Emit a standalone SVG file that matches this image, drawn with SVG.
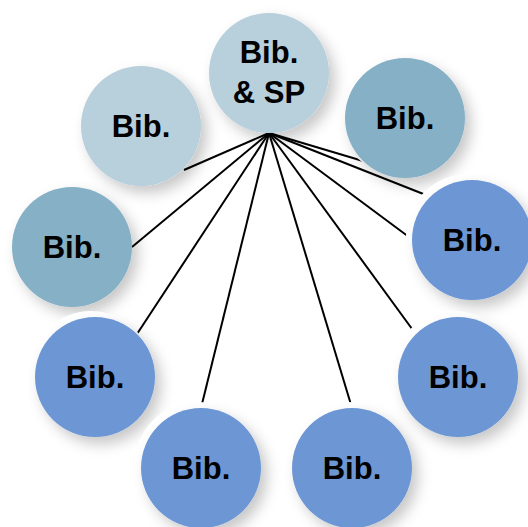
<svg xmlns="http://www.w3.org/2000/svg" width="528" height="527" viewBox="0 0 528 527">
<defs>
<filter id="sh" x="-40%" y="-40%" width="180%" height="180%">
<feDropShadow dx="6" dy="7" stdDeviation="7" flood-color="#000" flood-opacity="0.22"/>
</filter>
</defs>
<style>
.halo{fill:#fff}
.l{fill:#b8cfdc}
.t{fill:#86b0c5}
.b{fill:#6d96d4}
.lbl{font-family:"Liberation Sans",Arial,sans-serif;font-weight:bold;font-size:31px;fill:#000;text-anchor:middle}
.c line{stroke:#000;stroke-width:2}
</style>
<rect width="528" height="527" fill="#fff"/>
<g id="connectors" class="c">
<line x1="269" y1="133" x2="184" y2="170"/>
<line x1="269" y1="133" x2="132" y2="247"/>
<line x1="269" y1="133" x2="137" y2="334"/>
<line x1="269" y1="133" x2="201" y2="408"/>
<line x1="269" y1="133" x2="352" y2="408"/>
<line x1="269" y1="133" x2="415" y2="333"/>
<line x1="269" y1="133" x2="413" y2="240"/>
<line x1="269" y1="133" x2="431" y2="197"/>
<line x1="269" y1="133" x2="363" y2="161"/>
</g>
<g id="n2"><circle class="halo" cx="137" cy="122" r="62"/><circle class="l" cx="141" cy="126" r="60" filter="url(#sh)"/><text class="lbl" x="141" y="137">Bib.</text></g>
<g id="n3"><circle class="halo" cx="401" cy="114" r="62"/><circle class="t" cx="405" cy="118" r="60" filter="url(#sh)"/><text class="lbl" x="405" y="129">Bib.</text></g>
<g id="n1"><circle class="halo" cx="265" cy="69" r="62"/><circle class="l" cx="269" cy="73" r="60" filter="url(#sh)"/><text class="lbl" x="269" y="63">Bib.</text><text class="lbl" x="269" y="103">&amp; SP</text></g>
<g id="n4"><circle class="halo" cx="68" cy="243" r="62"/><circle class="t" cx="72" cy="247" r="60" filter="url(#sh)"/><text class="lbl" x="72" y="258">Bib.</text></g>
<g id="n5"><circle class="halo" cx="468" cy="236" r="62"/><circle class="b" cx="472" cy="240" r="60" filter="url(#sh)"/><text class="lbl" x="472" y="251">Bib.</text></g>
<g id="n6"><circle class="halo" cx="91" cy="373" r="62"/><circle class="b" cx="95" cy="377" r="60" filter="url(#sh)"/><text class="lbl" x="95" y="388">Bib.</text></g>
<g id="n7"><circle class="halo" cx="454" cy="373" r="62"/><circle class="b" cx="458" cy="377" r="60" filter="url(#sh)"/><text class="lbl" x="458" y="388">Bib.</text></g>
<g id="n8"><circle class="halo" cx="197" cy="464" r="62"/><circle class="b" cx="201" cy="468" r="60" filter="url(#sh)"/><text class="lbl" x="201" y="479">Bib.</text></g>
<g id="n9"><circle class="halo" cx="348" cy="464" r="62"/><circle class="b" cx="352" cy="468" r="60" filter="url(#sh)"/><text class="lbl" x="352" y="479">Bib.</text></g>
</svg>
